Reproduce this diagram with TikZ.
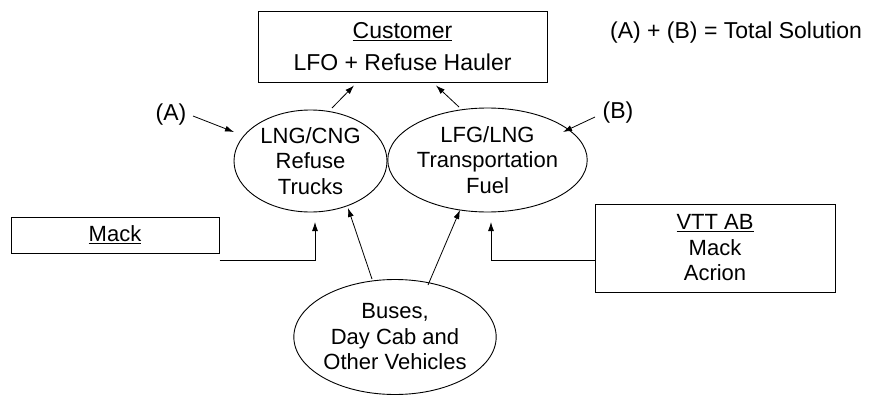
\documentclass[tikz,border=0pt]{standalone}
\usepackage{fontspec}
\setmainfont{Liberation Sans}
\usetikzlibrary{arrows.meta,shapes.geometric}
\begin{document}
\begin{tikzpicture}[x=1pt,y=-1pt,
  every node/.style={font=\fontsize{22}{25.5}\selectfont, align=center, inner sep=0pt},
  boxnode/.style={draw, line width=1pt, rectangle},
  ellnode/.style={draw, line width=0.9pt, ellipse},
  lbl/.style={font=\fontsize{23}{26}\selectfont},
  arr/.style={line width=0.8pt, -{Latex[length=9pt,width=6pt]}}
]
\useasboundingbox (0,0) rectangle (875,396);
\node[boxnode, minimum width=289pt, minimum height=70pt, font=\fontsize{23}{32}\selectfont] (cust) at (402.5,47) {\underline{Customer}\\LFO + Refuse Hauler};
\node[lbl] (total) at (736,33) {(A) + (B) = Total Solution};
\node[ellnode, minimum width=153pt, minimum height=102pt] (lng) at (310.5,161) {LNG/CNG\\Refuse\\Trucks};
\node[ellnode, minimum width=152pt, minimum height=104pt] (lfg) at (487.5,160) {LFG/LNG\\Transportation\\Fuel};
\node[ellnode, minimum width=160pt, minimum height=115pt] (bus) at (395,337) {Buses,\\Day Cab and\\Other Vehicles};
\node[lbl] (A) at (171,115) {(A)};
\node[lbl] (B) at (618,113) {(B)};
\node[boxnode, minimum width=208pt, minimum height=36pt] (mack) at (115,235) {\underline{Mack}};
\node[boxnode, minimum width=240pt, minimum height=88pt] (vtt) at (715,248) {\underline{VTT AB}\\Mack\\Acrion};
% connectors
\draw[arr] ([shift={(21.5,-53)}]lng.center) -- ([shift={(-48.5,3)}]cust.south);
\draw[arr] ([shift={(-28.5,-53)}]lfg.center) -- ([shift={(33.5,3)}]cust.south);
\draw[arr] ([shift={(22,1)}]A.center) -- ([shift={(-76.5,-29)}]lng.center);
\draw[arr] ([shift={(-23,4)}]B.center) -- ([shift={(75.5,-28)}]lfg.center);
\draw[arr] ([shift={(-23,-58)}]bus.center) -- ([shift={(37.5,47)}]lng.center);
\draw[arr] ([shift={(33,-52)}]bus.center) -- ([shift={(-27.5,50)}]lfg.center);
\draw[arr] ([shift={(0,7)}]mack.south east) -| ([shift={(4.5,61)}]lng.center);
\draw[arr] ([shift={(0,12)}]vtt.west) -| ([shift={(3.5,62)}]lfg.center);
\end{tikzpicture}
\end{document}
